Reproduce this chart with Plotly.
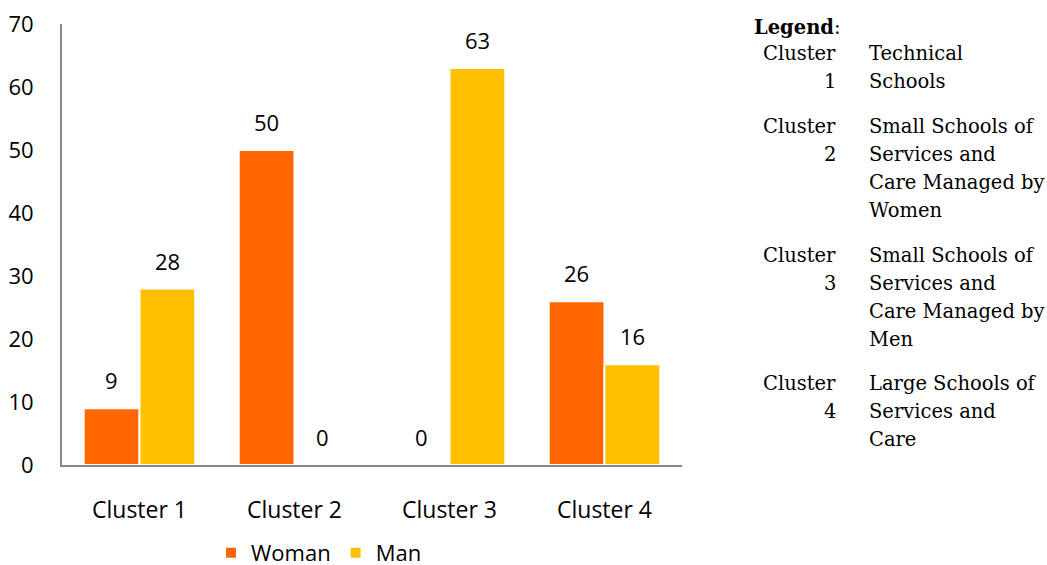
import plotly.graph_objects as go

categories = ["Cluster 1", "Cluster 2", "Cluster 3", "Cluster 4"]
woman = [9, 50, 0, 26]
man = [28, 0, 63, 16]
legend_ids = [["Cluster", "1"], ["Cluster", "2"], ["Cluster", "3"], ["Cluster", "4"]]
legend_desc = [
    ["Technical", "Schools"],
    ["Small Schools of", "Services and", "Care Managed by", "Women"],
    ["Small Schools of", "Services and", "Care Managed by", "Men"],
    ["Large Schools of", "Services and", "Care"],
]

FONT = "Open Sans"
SERIF = "DejaVu Serif"
FS = 23
SFS = 19.5

L, R, T, B = 62, 682, 24, 465
W, H = R - L, B - T

fig = go.Figure()
fig.add_trace(go.Bar(name="Woman", x=categories, y=woman,
                     marker=dict(color="#FF6600", line=dict(color="white", width=2))))
fig.add_trace(go.Bar(name="Man", x=categories, y=man,
                     marker=dict(color="#FFC000", line=dict(color="white", width=2))))

# value labels
for vals, dx in ((woman, -28), (man, 28)):
    for c, v in zip(categories, vals):
        fig.add_annotation(x=c, y=v, xref="x", yref="y", text=str(v), showarrow=False,
                           xshift=dx, yshift=28, font=dict(size=22, color="#000"))

fig.update_layout(
    width=1047, height=565,
    margin=dict(l=L, r=1047 - R, t=T, b=565 - B, autoexpand=False),
    paper_bgcolor="white", plot_bgcolor="white",
    font=dict(family=FONT, size=FS, color="#000"),
    barmode="group", bargap=0.28, bargroupgap=0,
    showlegend=True,
    legend=dict(orientation="h", x=(319 - L) / W, xanchor="center", y=-(553 - B) / H, yanchor="middle",
                font=dict(size=22), traceorder="normal", itemwidth=30),
    xaxis=dict(showline=True, linecolor="#888", linewidth=2, ticks="", showgrid=False,
               ticklabelstandoff=23, automargin=False, tickfont=dict(size=23)),
    yaxis=dict(range=[0, 70], dtick=10, showline=True, linecolor="#888", linewidth=2, ticks="",
               showgrid=False, zeroline=False, ticklabelstandoff=22, automargin=False,
               tickfont=dict(size=22)),
)

def py(ypix):
    return 1 - (ypix - T) / H

def px(xpix):
    return (xpix - L) / W

fig.add_annotation(xref="paper", yref="paper", x=px(752), y=py(27), xanchor="left", yanchor="middle",
                   showarrow=False, text="<b>Legend</b>:", font=dict(family=SERIF, size=SFS, color="#000"))
starts = [54, 127, 255, 383]
LH = 28
for i in range(4):
    for j, t in enumerate(legend_ids[i]):
        fig.add_annotation(xref="paper", yref="paper", x=px(838), y=py(starts[i] + j * LH),
                           xanchor="right", yanchor="middle", showarrow=False, text=t,
                           font=dict(family=SERIF, size=SFS, color="#000"))
    for j, t in enumerate(legend_desc[i]):
        fig.add_annotation(xref="paper", yref="paper", x=px(867), y=py(starts[i] + j * LH),
                           xanchor="left", yanchor="middle", showarrow=False, text=t,
                           font=dict(family=SERIF, size=SFS, color="#000"))

fig.write_html("out.html", config={"displayModeBar": False},
               post_script="document.body.style.margin='0';document.body.style.overflow='hidden';")
